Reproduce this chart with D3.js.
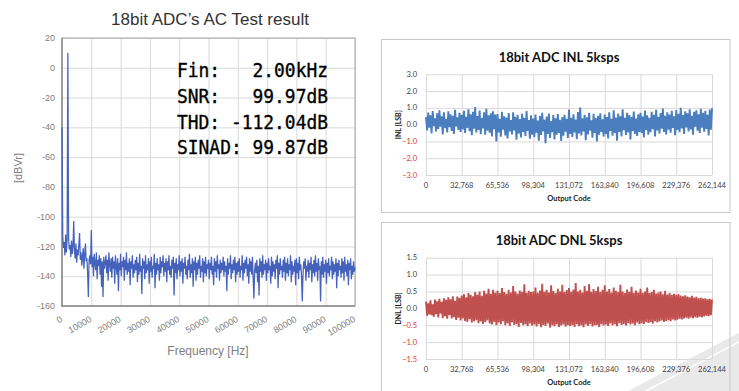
<!DOCTYPE html>
<html><head><meta charset="utf-8">
<script src="https://cdn.jsdelivr.net/npm/d3@7/dist/d3.min.js"></script>
<style>html,body{margin:0;padding:0;background:#fff;}svg{display:block;}</style>
</head><body>
<svg id="c" width="739" height="391"></svg>
<script>
// ---------- DATA ----------
const spectrumTitle = "18bit ADC\u2019s AC Test result";
const freqTicks = [0,10000,20000,30000,40000,50000,60000,70000,80000,90000,100000];
const dbTicks = [20,0,-20,-40,-60,-80,-100,-120,-140,-160];
const binHz = 250;
const spectrumDb = [
-40,-113,-121,-117,-126,-112,-124,-115,10,-114,-122,-119,-127,-116,-125,-120,-103,-123,-128,-118,
-131,-122,-126,-119,-111,-129,-124,-133,-127,-121,-135,-125,-118,-130,-128,-138,-154,-129,-126,-132,
-109,-134,-127,-140,-125,-131,-136,-124,-142,-129,-133,-126,-139,-128,-147,-130,-154,-127,-135,-131,
-126,-138,-129,-143,-124,-132,-137,-128,-141,-127,-135,-130,-145,-126,-133,-139,-128,-150,-131,-136,
-125,-140,-130,-134,-127,-143,-129,-136,-124,-139,-131,-137,-128,-146,-130,-135,-126,-141,-132,-138,
-129,-136,-127,-144,-131,-139,-125,-137,-133,-152,-128,-135,-130,-142,-126,-138,-132,-136,-128,-145,
-130,-137,-127,-141,-133,-135,-125,-148,-131,-139,-128,-136,-132,-143,-127,-138,-130,-134,-126,-140,
-131,-137,-128,-144,-130,-136,-126,-139,-133,-141,-129,-135,-127,-153,-131,-138,-128,-142,-132,-136,
-126,-140,-130,-137,-128,-145,-131,-135,-127,-139,-133,-142,-129,-136,-125,-141,-132,-138,-128,-147,
-130,-136,-127,-143,-131,-139,-129,-135,-126,-141,-133,-137,-128,-144,-130,-138,-127,-140,-132,-135,
-129,-142,-131,-136,-127,-139,-133,-146,-128,-137,-130,-141,-126,-135,-132,-143,-129,-138,-131,-136,
-127,-140,-130,-137,-133,-150,-128,-139,-131,-135,-126,-142,-132,-138,-129,-136,-127,-144,-131,-139,
-130,-137,-128,-141,-133,-136,-126,-143,-131,-138,-129,-135,-127,-140,-132,-145,-128,-137,-130,-139,
-127,-142,-155,-136,-131,-138,-129,-144,-133,-153,-128,-137,-130,-141,-126,-139,-132,-136,-129,-143,
-131,-138,-128,-136,-133,-145,-127,-140,-130,-137,-132,-142,-129,-135,-126,-148,-131,-139,-128,-136,
-133,-141,-129,-137,-127,-143,-131,-138,-128,-140,-132,-136,-126,-144,-130,-139,-133,-137,-129,-146,
-128,-138,-131,-142,-127,-136,-132,-140,-157,-139,-130,-135,-128,-143,-133,-137,-129,-141,-131,-136,
-127,-144,-132,-138,-129,-140,-126,-137,-131,-143,-128,-136,-133,-157,-130,-139,-127,-141,-132,-137,
-129,-145,-131,-138,-128,-140,-133,-136,-127,-142,-130,-139,-132,-137,-128,-148,-131,-140,-129,-136,
-133,-141,-128,-138,-130,-143,-127,-137,-132,-140,-129,-146,-131,-136,-128,-142,-133,-139,-130,-137,
-134];
const resultLines = ["Fin:   2.00kHz","SNR:   99.97dB","THD: -112.04dB","SINAD: 99.87dB"];

const codeTicks = [0,32768,65536,98304,131072,163840,196608,229376,262144];
const codeStep = 1024;
const inlTitle = "18bit ADC INL 5ksps";
const inlTicks = [3,2,1,0,-1,-2,-3];
const inlValues = [
0.45,-0.35,0.72,-0.18,0.55,-0.52,0.81,-0.08,0.38,-0.41,0.67,-0.25,0.86,-0.12,0.49,-0.58,0.74,-0.21,0.33,-0.46,0.79,-0.15,0.61,-0.37,0.52,-0.55,0.88,-0.1,0.43,-0.32,0.7,-0.44,
0.58,-0.28,0.83,-0.5,0.47,-0.19,0.92,-0.39,0.62,-0.63,0.76,-0.24,1.05,-0.47,0.51,-0.31,0.84,-0.57,0.39,-0.22,0.73,-0.6,0.95,-0.36,0.55,-0.48,0.68,-0.7,0.8,-0.27,0.6,-1.0,
0.63,-0.46,0.35,-0.72,0.77,-0.3,0.5,-0.65,0.42,-0.82,0.69,-0.41,0.28,-0.58,0.74,-0.35,0.46,-0.9,0.58,-0.52,0.33,-0.76,0.65,-0.44,0.4,-0.68,0.81,-0.38,0.27,-0.84,0.55,-0.6,
0.36,-0.74,0.6,-0.48,0.25,-0.95,0.52,-0.62,0.7,-0.4,0.31,-1.1,0.48,-0.56,0.66,-0.79,0.22,-0.45,0.57,-0.88,0.38,-0.6,0.63,-0.5,0.29,-0.97,0.45,-0.66,0.59,-0.42,0.34,-0.8,
0.9,-0.55,0.41,-0.73,0.62,-0.46,0.3,-0.86,0.75,-0.52,1.02,-0.64,0.37,-0.41,0.58,-0.92,0.44,-0.58,0.71,-0.35,0.26,-0.78,0.64,-0.49,0.39,-1.0,0.53,-0.6,0.68,-0.43,0.32,-0.71,
0.6,-0.57,0.45,-0.82,0.73,-0.38,0.35,-0.66,0.85,-0.5,0.42,-0.95,0.66,-0.44,0.5,-0.7,0.92,-0.33,0.4,-0.61,0.7,-0.47,0.57,-0.88,0.46,-0.39,0.78,-0.55,0.36,-0.68,0.62,-0.43,
0.71,-0.5,0.49,-0.76,0.84,-0.31,0.55,-0.6,0.4,-0.45,0.76,-0.27,0.58,-0.7,0.88,-0.35,0.47,-0.52,0.69,-0.24,0.96,-0.43,0.52,-0.58,0.74,-0.3,0.6,-0.48,0.82,-0.2,0.5,-0.63,
0.87,-0.32,0.64,-0.45,1.0,-0.22,0.57,-0.55,0.79,-0.16,0.68,-0.4,0.91,-0.28,0.53,-0.6,0.76,-0.12,0.85,-0.36,0.62,-0.5,0.95,-0.18,0.7,-0.42,0.83,-0.25,0.58,-0.65,0.9,-0.3,0.98];
const dnlTitle = "18bit ADC DNL 5ksps";
const dnlTicks = [1.5,1.0,0.5,0.0,-0.5,-1.0,-1.5];
const dnlValues = [
0.2,-0.22,0.15,-0.18,0.24,-0.2,0.12,-0.25,0.26,-0.17,0.21,-0.27,0.28,-0.15,0.19,-0.29,0.3,-0.23,0.25,-0.31,0.33,-0.2,0.27,-0.3,0.36,-0.26,0.22,-0.34,0.35,-0.28,0.31,-0.36,
0.38,-0.3,0.42,-0.37,0.33,-0.4,0.45,-0.32,0.4,-0.42,0.36,-0.38,0.48,-0.35,0.41,-0.44,0.5,-0.39,0.37,-0.46,0.52,-0.41,0.44,-0.36,0.58,-0.45,0.43,-0.48,0.55,-0.4,0.47,-0.5,
0.52,-0.42,0.45,-0.47,0.6,-0.38,0.48,-0.5,0.43,-0.44,0.55,-0.52,0.47,-0.41,0.66,-0.49,0.5,-0.46,0.44,-0.55,0.53,-0.43,0.49,-0.5,0.71,-0.47,0.46,-0.53,0.52,-0.45,0.48,-0.51,
0.5,-0.48,0.62,-0.54,0.46,-0.46,0.53,-0.56,0.73,-0.49,0.49,-0.52,0.55,-0.45,0.47,-0.57,0.68,-0.5,0.51,-0.53,0.45,-0.47,0.58,-0.55,0.5,-0.51,0.7,-0.48,0.48,-0.54,0.54,-0.5,
0.6,-0.52,0.49,-0.49,0.56,-0.55,0.75,-0.47,0.5,-0.53,0.55,-0.5,0.47,-0.56,0.66,-0.48,0.52,-0.52,0.72,-0.46,0.49,-0.54,0.57,-0.5,0.51,-0.49,0.64,-0.55,0.48,-0.47,0.55,-0.51,
0.68,-0.48,0.5,-0.52,0.57,-0.45,0.47,-0.5,0.62,-0.47,0.52,-0.53,0.48,-0.44,0.7,-0.49,0.5,-0.46,0.45,-0.51,0.56,-0.43,0.49,-0.48,0.64,-0.45,0.46,-0.5,0.53,-0.42,0.47,-0.47,
0.58,-0.44,0.46,-0.46,0.5,-0.4,0.62,-0.43,0.45,-0.41,0.48,-0.45,0.55,-0.38,0.44,-0.42,0.47,-0.39,0.5,-0.36,0.42,-0.4,0.52,-0.37,0.41,-0.35,0.45,-0.38,0.4,-0.33,0.43,-0.36,
0.4,-0.34,0.42,-0.31,0.38,-0.33,0.36,-0.3,0.39,-0.28,0.35,-0.31,0.33,-0.27,0.37,-0.29,0.32,-0.26,0.34,-0.28,0.3,-0.25,0.31,-0.27,0.29,-0.24,0.3,-0.22,0.27,-0.23,0.28,-0.2,0.26];

// ---------- DRAW ----------
const svg = d3.select("#c");

// slide decoration (bottom-right)
svg.append("polygon").attr("points","628,391 739,333 739,391").attr("fill","#e9e9e9");
svg.append("line").attr("x1",646).attr("y1",391).attr("x2",739).attr("y2",342).attr("stroke","#fff").attr("stroke-width",1.5);

// ---- Left: FFT spectrum ----
const L = {x0:62, x1:355, y0:38, y1:306};
const xF = d3.scaleLinear().domain([0,100000]).range([L.x0,L.x1]);
const yF = d3.scaleLinear().domain([-160,20]).range([L.y1,L.y0]);
const gL = svg.append("g").attr("font-family","'Liberation Sans',Arial,sans-serif");

gL.append("text").attr("x",210).attr("y",25).attr("text-anchor","middle")
  .attr("font-size",17).attr("fill","#333").text(spectrumTitle);

gL.append("g").attr("transform",`translate(0,${L.y1})`)
  .call(d3.axisBottom(xF).tickValues(freqTicks).tickSize(-(L.y1-L.y0)).tickFormat(""))
  .call(g=>{g.select(".domain").remove(); g.selectAll("line").attr("stroke","#d9d9d9");});
gL.append("g").attr("transform",`translate(${L.x0},0)`)
  .call(d3.axisLeft(yF).tickValues(dbTicks).tickSize(-(L.x1-L.x0)).tickFormat(""))
  .call(g=>{g.select(".domain").remove(); g.selectAll("line").attr("stroke","#d9d9d9");});

gL.append("rect").attr("x",L.x0).attr("y",L.y0).attr("width",L.x1-L.x0).attr("height",L.y1-L.y0)
  .attr("fill","none").attr("stroke","#a6a6a6").attr("stroke-width",1);
gL.append("line").attr("x1",L.x0).attr("x2",L.x0).attr("y1",L.y0).attr("y2",L.y1+1).attr("stroke","#8c8c8c").attr("stroke-width",1.5);
gL.append("line").attr("x1",L.x0).attr("x2",L.x1).attr("y1",L.y1).attr("y2",L.y1).attr("stroke","#8c8c8c").attr("stroke-width",1.5);

gL.selectAll(".yl").data(dbTicks).join("text")
  .attr("x",L.x0-7).attr("y",d=>yF(d)).attr("dy","0.35em").attr("text-anchor","end")
  .attr("font-size",9).attr("fill","#808080").text(d=>d);
gL.selectAll(".xl").data(freqTicks).join("text")
  .attr("transform",d=>`translate(${xF(d)+1},${L.y1+15}) rotate(-30)`)
  .attr("text-anchor","end").attr("font-size",9).attr("fill","#808080").text(d=>d);
gL.append("text").attr("transform",`translate(22,168) rotate(-90)`).attr("text-anchor","middle")
  .attr("font-size",11).attr("fill","#808080").text("[dBVr]");
gL.append("text").attr("x",208).attr("y",355).attr("text-anchor","middle")
  .attr("font-size",12).attr("fill","#7f7f7f").text("Frequency [Hz]");

const specLine = d3.line().x((d,i)=>xF(i*binHz)).y(d=>yF(d));
gL.append("path").datum(spectrumDb).attr("d",specLine).attr("fill","none")
  .attr("stroke","#4461bb").attr("stroke-width",1.25).attr("stroke-linejoin","bevel");

gL.selectAll(".res").data(resultLines).join("text")
  .attr("x",177).attr("y",(d,i)=>77+i*25.8)
  .attr("font-family","'DejaVu Sans Mono',monospace").attr("font-size",20)
  .attr("textLength",151).attr("lengthAdjust","spacingAndGlyphs")
  .attr("fill","#000").attr("stroke","#000").attr("stroke-width",0.35)
  .style("white-space","pre").text(d=>d);

// ---- Right panels ----
function panel(cfg){
  const g = svg.append("g").attr("font-family","Lato,'Open Sans',sans-serif");
  g.append("rect").attr("x",cfg.fx).attr("y",cfg.fy).attr("width",cfg.fw).attr("height",cfg.fh)
    .attr("fill","none").attr("stroke","#c8c8c8").attr("stroke-width",1);
  const x = d3.scaleLinear().domain([0,262144]).range([426,712]);
  const y = d3.scaleLinear().domain(cfg.domain).range([cfg.py1,cfg.py0]);
  g.append("g").attr("transform",`translate(0,${cfg.py1})`)
    .call(d3.axisBottom(x).tickValues(codeTicks).tickSize(-(cfg.py1-cfg.py0)).tickFormat(""))
    .call(a=>{a.select(".domain").remove(); a.selectAll("line").attr("stroke","#d9d9d9");});
  g.append("g").attr("transform",`translate(426,0)`)
    .call(d3.axisLeft(y).tickValues(cfg.ticks).tickSize(-(712-426)).tickFormat(""))
    .call(a=>{a.select(".domain").remove(); a.selectAll("line").attr("stroke","#d9d9d9");});
  g.append("text").attr("x",559).attr("y",cfg.titleY).attr("text-anchor","middle")
    .attr("font-size",13).attr("font-weight","bold").attr("fill","#111").text(cfg.title);
  g.selectAll(".yl").data(cfg.ticks).join("text")
    .attr("x",417).attr("y",d=>y(d)).attr("dy","0.35em").attr("text-anchor","end")
    .attr("font-size",7.5).attr("fill",d=>d<0?"#e8312e":"#404040").text(d=>d3.format(".1f")(d));
  g.selectAll(".xl").data(codeTicks).join("text")
    .attr("x",d=>x(d)).attr("y",cfg.py1+13).attr("text-anchor","middle")
    .attr("font-size",7.5).attr("fill","#404040").text(d=>d3.format(",")(d));
  g.append("text").attr("x",569).attr("y",cfg.py1+26).attr("text-anchor","middle")
    .attr("font-size",7.5).attr("font-weight","bold").attr("fill","#222").text("Output Code");
  g.append("text").attr("transform",`translate(401,${(cfg.py0+cfg.py1)/2}) rotate(-90)`)
    .attr("text-anchor","middle").attr("font-size",7).attr("font-weight","bold").attr("fill","#222").text(cfg.ylabel);
  const ln = d3.line().x((d,i)=>x(i*codeStep)).y(d=>y(d));
  g.append("path").datum(cfg.values).attr("d",ln).attr("fill","none")
    .attr("stroke",cfg.color).attr("stroke-width",1.9).attr("stroke-linejoin","bevel");
}
panel({fx:381.5,fy:39.5,fw:348.5,fh:173,py0:74.3,py1:175,domain:[-3,3],ticks:inlTicks,
  title:inlTitle,titleY:62,ylabel:"INL [LSB]",values:inlValues,color:"#4a7ebf"});
panel({fx:381.5,fy:222.5,fw:348.5,fh:200,py0:257.7,py1:359,domain:[-1.5,1.5],ticks:dnlTicks,
  title:dnlTitle,titleY:245,ylabel:"DNL [LSB]",values:dnlValues,color:"#c0504d"});
</script>
</body></html>
